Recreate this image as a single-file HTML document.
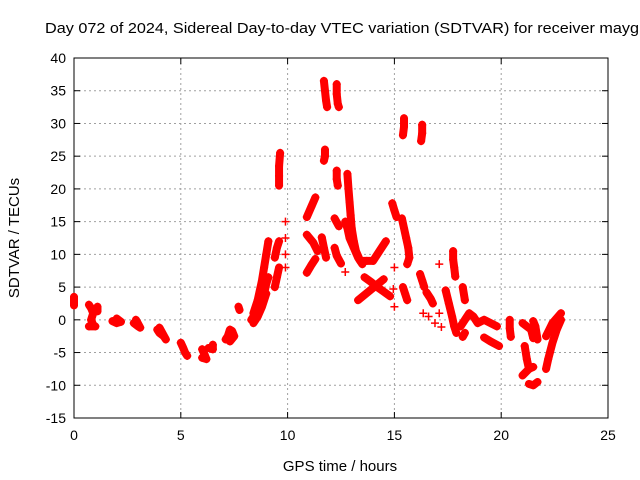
<!DOCTYPE html>
<html><head><meta charset="utf-8"><style>
html,body{margin:0;padding:0;background:#fff;}
svg{display:block;font-family:"Liberation Sans",sans-serif;}
</style></head><body>
<svg id="chart" width="640" height="480" viewBox="0 0 640 480" xmlns="http://www.w3.org/2000/svg">
<text x="45" y="33" font-size="15" fill="#000" textLength="594" lengthAdjust="spacingAndGlyphs">Day 072 of 2024, Sidereal Day-to-day VTEC variation (SDTVAR) for receiver mayg</text>
<g id="grid"></g>
<g id="axes"></g>
<g id="marks"></g>
<text x="340" y="471" font-size="15" text-anchor="middle">GPS time / hours</text>
<text x="0" y="0" font-size="15" text-anchor="middle" transform="translate(19,238) rotate(-90)">SDTVAR / TECUs</text>
</svg>
<script>
const xTicks = [0,5,10,15,20,25];
const yTicks = [-15,-10,-5,0,5,10,15,20,25,30,35,40];
const tracks = [
 [[0,3.5],[0,2.2]],
 [[0.7,2.3],[0.8,1.8],[0.9,1],[0.8,0],[0.9,-0.8],[1.0,-1],[0.7,-1]],
 [[1.1,2],[1.1,1.3]],
 [[1.8,-0.2],[2.0,-0.5],[2.2,-0.3],[2.0,0.2]],
 [[2.8,-0.5],[3.0,-1],[3.1,-1.2],[2.9,0]],
 [[3.9,-1.5],[4.0,-2],[4.2,-2.5],[4.3,-3],[4.0,-1.2]],
 [[5.0,-3.5],[5.1,-4.2],[5.2,-5],[5.3,-5.5]],
 [[6.0,-4.5],[6.1,-5.2],[6.2,-6],[6.0,-5.8]],
 [[6.3,-4.3],[6.5,-4.5],[6.5,-3.8]],
 [[7.1,-3],[7.2,-2.5],[7.3,-1.5],[7.4,-1.7],[7.5,-2.5],[7.3,-3.3]],
 [[7.7,2],[7.75,1.5]],
 [[8.4,1],[8.6,3],[8.8,6],[8.9,8],[9.0,10],[9.1,12]],
 [[8.3,0],[8.5,1],[8.7,2.5],[8.9,4],[9.0,5.5],[9.1,6.5]],
 [[8.4,-0.5],[8.6,0.5],[8.8,2],[9.0,4]],
 [[9.6,20.5],[9.6,22],[9.6,23.5],[9.65,25.5]],
 [[9.4,5],[9.5,6.5],[9.6,8]],
 [[9.4,9.5],[9.5,11],[9.6,12]],
 [[9.9,15]],[[9.9,12.5]],[[9.9,10]],[[9.9,8]],
 [[10.9,15.7],[11.1,17.2],[11.3,18.7]],
 [[10.9,13],[11.2,11.8],[11.4,10.5]],
 [[10.9,7.2],[11.1,8.3],[11.3,9.3]],
 [[11.6,12.6],[11.7,11],[11.8,9.5]],
 [[11.75,26],[11.75,25],[11.7,24.3]],
 [[11.7,36.5],[11.75,35],[11.8,33.5],[11.85,32.5]],
 [[12.3,36],[12.3,34.5],[12.35,33],[12.4,32.5]],
 [[12.3,22.8],[12.3,21.5],[12.35,20.5]],
 [[12.2,15.5],[12.4,14.3]],
 [[12.2,11],[12.3,9.8],[12.5,8.6]],
 [[12.7,7.3]],
 [[12.8,22.3],[12.85,20],[12.9,18],[12.95,16],[13.0,14],[13.1,12],[13.2,10.5],[13.4,9],[13.7,9],[14.0,9],[14.3,10.5],[14.6,12]],
 [[12.7,15],[12.8,14],[12.9,12.5],[13.1,11],[13.3,9.5],[13.5,8.5]],
 [[13.3,3],[13.6,3.8],[13.9,4.6],[14.2,5.4],[14.5,6.2]],
 [[13.6,6.5],[13.9,5.8],[14.2,5],[14.5,4.3],[14.8,3.6]],
 [[14.9,17.8],[15.0,16.7],[15.1,15.7]],
 [[15.0,8]],[[14.95,4.7]],[[15.0,2]],
 [[15.35,15.5],[15.45,14],[15.55,12.5],[15.65,11],[15.7,9.5],[15.6,8.5]],
 [[15.4,5],[15.5,4],[15.6,3]],
 [[15.45,30.8],[15.45,29.5],[15.4,28.2]],
 [[16.3,29.8],[16.3,28.5],[16.25,27.3]],
 [[16.2,7],[16.3,6],[16.4,5]],
 [[16.5,4.2],[16.7,3.2],[16.8,2.5]],
 [[17.1,8.5]],
 [[17.75,10.5],[17.75,9.2],[17.8,8],[17.85,6.6]],
 [[17.4,4.5],[17.55,2.5],[17.7,0.5],[17.8,-1],[17.9,-2]],
 [[18.2,5],[18.3,3]],
 [[18.1,-1],[18.3,0],[18.5,1],[18.7,0.5],[18.9,-0.5],[19.2,0],[19.5,-0.5],[19.8,-1]],
 [[18.3,-2],[18.2,-2.6]],
 [[19.2,-2.7],[19.5,-3.3],[19.9,-4]],
 [[16.35,1]],[[16.6,0.5]],[[16.9,-0.5]],[[17.1,1]],[[17.2,-1.1]],
 [[20.4,0],[20.4,-1.3],[20.45,-2.6]],
 [[21.0,-0.5],[21.2,-1],[21.4,-1.5],[21.5,-2.8]],
 [[21.5,-0.2],[21.6,-1],[21.7,-3]],
 [[21.1,-4],[21.2,-6],[21.3,-7.5],[21.0,-8.5]],
 [[21.3,-7.5],[21.5,-7.2]],
 [[21.3,-9.8],[21.5,-10],[21.7,-9.5]],
 [[22.1,-2.5],[22.4,-0.5],[22.8,1]],
 [[22.1,-7.5],[22.2,-6],[22.4,-3.5],[22.6,-1.5],[22.8,0]]
];
const X0=74,X1=608,Y0=418,Y1=58;
const xMin=0,xMax=25,yMin=-15,yMax=40;
function sx(v){return X0+(v-xMin)/(xMax-xMin)*(X1-X0);}
function sy(v){return Y0-(v-yMin)/(yMax-yMin)*(Y0-Y1);}
const NS="http://www.w3.org/2000/svg";
function mk(tag,attrs,parent){const e=document.createElementNS(NS,tag);for(const k in attrs)e.setAttribute(k,attrs[k]);parent.appendChild(e);return e;}
const grid=document.getElementById('grid'),axes=document.getElementById('axes'),marks=document.getElementById('marks');
xTicks.forEach(t=>{
 const x=sx(t);
 if(t>xMin&&t<xMax){const g=mk('line',{x1:x,x2:x,y1:Y1,y2:Y0,stroke:'#a0a0a0','stroke-dasharray':'2,3'},grid);
 
 }
 mk('line',{x1:x,x2:x,y1:Y0,y2:Y0-6,stroke:'#000'},axes);
 mk('line',{x1:x,x2:x,y1:Y1,y2:Y1+6,stroke:'#000'},axes);
 const l=mk('text',{x:x,y:Y0+22,'font-size':14,'text-anchor':'middle'},axes);l.textContent=t;
 
 
});
yTicks.forEach(t=>{
 const y=sy(t);
 if(t>yMin&&t<yMax){const g=mk('line',{x1:X0,x2:X1,y1:y,y2:y,stroke:'#a0a0a0','stroke-dasharray':'2,3'},grid);
 
 }
 mk('line',{x1:X0,x2:X0+6,y1:y,y2:y,stroke:'#000'},axes);
 mk('line',{x1:X1,x2:X1-6,y1:y,y2:y,stroke:'#000'},axes);
 const l=mk('text',{x:X0-8,y:y+5,'font-size':14,'text-anchor':'end'},axes);l.textContent=t;
 
 
});
const box=mk('rect',{x:X0,y:Y1,width:X1-X0,height:Y0-Y1,fill:'none',stroke:'#000'},axes);


tracks.forEach(tr=>{
 const g=mk('g',{},marks);
 
 
 if(tr.length>1){
  mk('polyline',{points:tr.map(p=>sx(p[0])+','+sy(p[1])).join(' '),fill:'none',stroke:'#f00','stroke-width':8,'stroke-linecap':'round','stroke-linejoin':'round'},g);
 }
 tr.forEach(p=>{
  const x=sx(p[0]),y=sy(p[1]);
  const m=mk('path',{d:`M${x-4},${y}H${x+4}M${x},${y-4}V${y+4}`,stroke:'#f00','stroke-width':1.5},g);
  
  
 });
});
</script>
</body></html>
